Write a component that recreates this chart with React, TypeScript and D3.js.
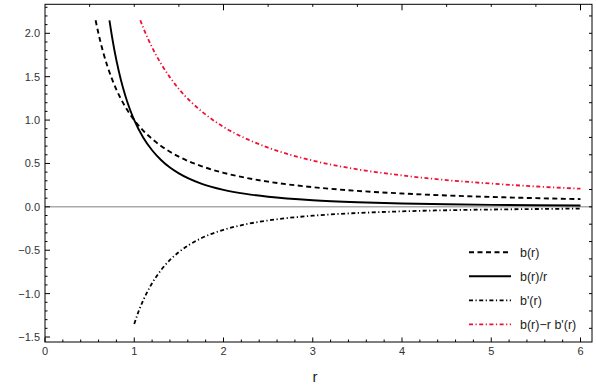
import React from "react";
import * as d3 from "d3";

// b(r)
const rB = [0.567, 0.6, 0.65, 0.7, 0.75, 0.8, 0.9, 1.0, 1.1, 1.2, 1.3, 1.4, 1.5, 1.75, 2, 2.25, 2.5, 3, 3.5, 4, 4.5, 5, 5.5, 6];
const vB = [2.15, 1.993, 1.789, 1.618, 1.475, 1.351, 1.153, 1.0, 0.879, 0.782, 0.702, 0.635, 0.578, 0.47, 0.392, 0.335, 0.29, 0.227, 0.184, 0.154, 0.131, 0.114, 0.1, 0.089];
// b(r)/r
const rBr = [0.722, 0.75, 0.8, 0.85, 0.9, 0.95, 1.0, 1.1, 1.2, 1.3, 1.4, 1.5, 1.75, 2, 2.25, 2.5, 3, 3.5, 4, 4.5, 5, 5.5, 6];
const vBr = [2.15, 1.966, 1.689, 1.465, 1.281, 1.128, 1.0, 0.799, 0.652, 0.54, 0.453, 0.386, 0.268, 0.196, 0.149, 0.116, 0.0757, 0.0527, 0.0385, 0.0292, 0.0228, 0.0182, 0.0148];
// b'(r)
const rDb = [1.0, 1.05, 1.1, 1.2, 1.3, 1.4, 1.5, 1.75, 2, 2.25, 2.5, 3, 3.5, 4, 4.5, 5, 5.5, 6];
const vDb = [-1.35, -1.200, -1.079, -0.88, -0.729, -0.612, -0.521, -0.362, -0.265, -0.201, -0.157, -0.102, -0.071, -0.052, -0.039, -0.031, -0.025, -0.02];
// b(r) - r b'(r)
const rRed = [1.068, 1.1, 1.2, 1.3, 1.4, 1.5, 1.75, 2, 2.25, 2.5, 3, 3.5, 4, 4.5, 5, 5.5, 6];
const vRed = [2.15, 2.066, 1.838, 1.65, 1.492, 1.358, 1.105, 0.921, 0.787, 0.682, 0.533, 0.432, 0.362, 0.308, 0.268, 0.235, 0.209];

const xTickLabels = ["0", "1", "2", "3", "4", "5", "6"];
const yTickLabels = ["2.0", "1.5", "1.0", "0.5", "0.0", "-0.5", "-1.0", "-1.5"];
const legendLabels = ["b(r)", "b(r)/r", "b'(r)", "b(r)\u2212r b'(r)"];

const RED = "#ee1133";

export default function App() {
  const W = 596, H = 385;
  const left = 45, right = 592, top = 4.3, bottom = 342;
  const x = d3.scaleLinear().domain([0, 6]).range([45, 580.5]);
  const y = d3.scaleLinear().domain([-1.5, 2]).range([337, 33.3]);
  const line = d3.line<[number, number]>().x(d => x(d[0])).y(d => y(d[1])).curve(d3.curveMonotoneX);

  const series = [
    { r: rB, v: vB, color: "#000", width: 1.9, dash: "5,3.5" },
    { r: rBr, v: vBr, color: "#000", width: 1.9, dash: undefined },
    { r: rDb, v: vDb, color: "#000", width: 1.8, dash: "4,2.5,1.2,2.5" },
    { r: rRed, v: vRed, color: RED, width: 1.8, dash: "4,2.5,1.2,2.5" },
  ];

  const xMinor: number[] = [];
  for (let i = 0; i <= 30; i++) { const t = i * 0.2; if (i % 5 !== 0 && x(t) < right) xMinor.push(t); }
  const xMajor = d3.range(0, 7);
  const yMinor: number[] = [];
  for (let i = -15; i <= 23; i++) { if (i % 5 !== 0) yMinor.push(i / 10); }
  const yMajor = yTickLabels.map(s => parseFloat(s));
  const topTicks: number[] = [];
  for (let i = 1; i <= 12; i++) topTicks.push(i * 0.5);
  const rightTicks: number[] = [];
  for (let i = -7; i <= 11; i++) rightTicks.push(i * 0.2);

  const font = "'Liberation Sans', Arial, sans-serif";

  return (
    <svg width={W} height={H} style={{ position: "absolute", left: 0, top: 0, background: "#fff" }}>
      <rect x={0} y={0} width={W} height={H} fill="#fff" />
      <defs>
        <clipPath id="plotclip">
          <rect x={left} y={top} width={right - left} height={bottom - top} />
        </clipPath>
      </defs>
      {/* zero line */}
      <line x1={left} x2={right} y1={y(0)} y2={y(0)} stroke="#808080" strokeWidth={1} />
      <g clipPath="url(#plotclip)">
        {series.map((s, i) => (
          <path key={i} d={line(s.r.map((r, j) => [r, s.v[j]] as [number, number])) || ""}
            fill="none" stroke={s.color} strokeWidth={s.width} strokeDasharray={s.dash} />
        ))}
      </g>
      {/* frame */}
      <rect x={left} y={top} width={right - left} height={bottom - top} fill="none" stroke="#000" strokeWidth={1} />
      {/* bottom ticks */}
      {xMajor.map(t => <line key={"xM" + t} x1={x(t)} x2={x(t)} y1={bottom} y2={bottom - 4.5} stroke="#000" />)}
      {xMinor.map(t => <line key={"xm" + t} x1={x(t)} x2={x(t)} y1={bottom} y2={bottom - 2.5} stroke="#000" />)}
      {/* left ticks */}
      {yMajor.map(t => <line key={"yM" + t} x1={left} x2={left + 5} y1={y(t)} y2={y(t)} stroke="#000" />)}
      {yMinor.map(t => <line key={"ym" + t} x1={left} x2={left + 2.5} y1={y(t)} y2={y(t)} stroke="#000" />)}
      {/* top ticks */}
      {topTicks.map(t => (
        <line key={"t" + t} x1={x(t)} x2={x(t)} y1={top} y2={top + (t % 2 === 0 ? 6 : 2.5)} stroke="#000" />
      ))}
      {/* right ticks */}
      {rightTicks.map(t => <line key={"r" + t} x1={right} x2={right - 3} y1={y(t)} y2={y(t)} stroke="#000" />)}
      {/* labels */}
      {xTickLabels.map((s, i) => (
        <text key={"xl" + s} x={x(i)} y={355} textAnchor="middle" fontFamily={font} fontSize={11} fill="#333">{s}</text>
      ))}
      {yTickLabels.map((s, i) => (
        <text key={"yl" + s} x={40} y={y(yMajor[i]) + 4} textAnchor="end" fontFamily={font} fontSize={11} fill="#333">{s.replace("-", "\u2212")}</text>
      ))}
      <text x={315} y={382} textAnchor="middle" fontFamily={font} fontSize={15} fill="#222">r</text>
      {/* legend */}
      {series.map((s, i) => {
        const ly = 252.3 + i * 24;
        return (
          <g key={"lg" + i}>
            <line x1={469} x2={511} y1={ly} y2={ly} stroke={s.color} strokeWidth={s.width} strokeDasharray={s.dash} />
            <text x={520} y={ly + 4.5} fontFamily={font} fontSize={12.5} fill="#222">{legendLabels[i]}</text>
          </g>
        );
      })}
    </svg>
  );
}
